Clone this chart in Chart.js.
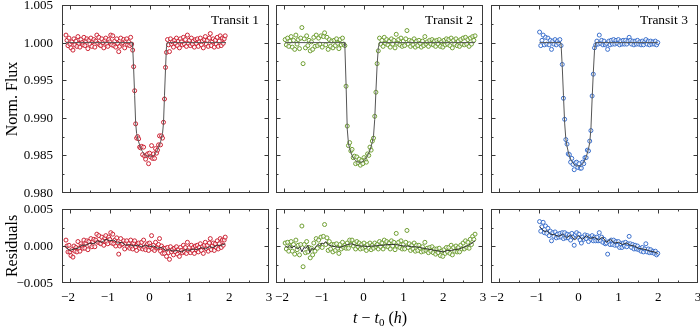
<!DOCTYPE html>
<html><head><meta charset="utf-8">
<script src="https://cdn.jsdelivr.net/npm/chart.js@4.4.1/dist/chart.umd.min.js"></script>
<style>
html,body{margin:0;padding:0;background:#fff;width:700px;height:327px;overflow:hidden;}
#wrap{position:relative;width:700px;height:327px;}
canvas{position:absolute;left:0;top:0;}
.lbl{position:absolute;font-family:'Liberation Serif',serif;color:#000;white-space:nowrap;line-height:1;}
</style></head><body><div id="wrap">
<canvas id="c1" width="700" height="327"></canvas>
<canvas id="c2" width="700" height="327"></canvas>
<canvas id="c3" width="700" height="327"></canvas>
<canvas id="c4" width="700" height="327"></canvas>
<canvas id="c5" width="700" height="327"></canvas>
<canvas id="c6" width="700" height="327"></canvas>
<div class="lbl" style="left:12px;top:99px;font-size:16px;transform:translate(-50%,-50%) rotate(-90deg);">Norm. Flux</div>
<div class="lbl" style="left:12px;top:246px;font-size:16px;transform:translate(-50%,-50%) rotate(-90deg);">Residuals</div>
<div class="lbl" style="left:380px;top:318px;font-size:16px;transform:translate(-50%,-50%);"><i>t</i> − <i>t</i><span style="font-size:11px;position:relative;top:3px;">0</span> (<i>h</i>)</div>
</div>
<script>
// ---------- tick values ----------
const xMajor = [-2,-1,0,1,2,3];
const xMinor = [-1.5,-0.5,0.5,1.5,2.5];
const fluxMajor = [0.980,0.985,0.990,0.995,1.000,1.005];
const fluxMinor = [0.9825,0.9875,0.9925,0.9975,1.0025];
const resMajor = [-0.005,0,0.005];
const resMinor = [-0.0025,0.0025];
const transitNames = ['Transit 1','Transit 2','Transit 3'];

// ---------- Transit 1 ----------
const t1 = [-2.1,-2.075,-2.05,-2.025,-2,-1.975,-1.95,-1.925,-1.9,-1.875,-1.85,-1.825,-1.8,-1.775,-1.75,-1.725,-1.7,-1.675,-1.65,-1.625,-1.6,-1.575,-1.55,-1.525,-1.5,-1.475,-1.45,-1.425,-1.4,-1.375,-1.35,-1.325,-1.3,-1.275,-1.25,-1.225,-1.2,-1.175,-1.15,-1.125,-1.1,-1.075,-1.05,-1.025,-1,-0.975,-0.95,-0.925,-0.9,-0.875,-0.85,-0.825,-0.8,-0.775,-0.75,-0.725,-0.7,-0.675,-0.65,-0.625,-0.6,-0.575,-0.55,-0.525,-0.5,-0.475,-0.45,-0.425,-0.4,-0.375,-0.35,-0.325,-0.3,-0.275,-0.25,-0.225,-0.2,-0.175,-0.15,-0.125,-0.1,-0.075,-0.05,-0.025,0,0.025,0.05,0.075,0.1,0.125,0.15,0.175,0.2,0.225,0.25,0.275,0.3,0.325,0.35,0.375,0.4,0.425,0.45,0.475,0.5,0.525,0.55,0.575,0.6,0.625,0.65,0.675,0.7,0.725,0.75,0.775,0.8,0.825,0.85,0.875,0.9,0.925,0.95,0.975,1,1.025,1.05,1.075,1.1,1.125,1.15,1.175,1.2,1.225,1.25,1.275,1.3,1.325,1.35,1.375,1.4,1.425,1.45,1.475,1.5,1.525,1.55,1.575,1.6,1.625,1.65,1.675,1.7,1.725,1.75,1.775,1.8,1.825,1.85,1.875,1.9];
const f1 = [1.001,1.0003,0.9996,1.0006,0.9998,0.9993,1.0001,0.999,1.0005,0.9997,
1.0002,0.9995,1.0008,0.9999,0.9994,1.0004,1,0.9997,1.0007,0.9996,
1.0002,1.0005,0.9992,1.0003,0.9998,1.0006,0.9995,1.0001,1.0004,0.9994,
1.0002,1.001,0.9999,1.0007,0.9997,0.9996,1.0005,1,0.9993,1.0003,
1.0006,0.9998,0.9995,1.0004,1.0001,1.001,0.9997,1.0009,0.9996,1.0002,
0.9994,1.0005,0.9999,0.9988,0.9995,1.0006,0.9998,1,1.0004,0.9993,
1.0002,1.0005,0.9997,1.0001,0.9996,1.0007,0.9998,0.999,0.9968,0.9936,
0.9892,0.9873,0.9875,0.9872,0.9861,0.986,0.9862,0.9851,0.9861,0.9849,
0.9845,0.985,0.9852,0.9839,0.9853,0.9848,0.9863,0.9846,0.9852,0.9846,
0.9859,0.9853,0.9857,0.9864,0.9876,0.9864,0.9876,0.9873,0.9894,0.9925,
0.9967,0.9987,1.0004,0.9997,0.9988,1.0005,0.9998,1.0001,0.9994,1.0003,
0.9999,1.0006,0.9996,1.0002,0.9993,1.0005,1.0001,0.9997,1.0007,0.9998,
1.0004,0.9995,1.001,0.9999,1.0003,0.9996,1.0006,0.9998,1.0002,0.9994,
1.0004,0.9999,1.0005,0.9995,1.0001,1.0006,0.9997,1.0002,0.9993,1.0004,
1.0008,0.9998,1.0003,0.9995,1.0006,1.0012,0.9996,1.0001,1.0005,0.9994,
1.0003,0.9998,1.0007,0.9995,1.0002,1.0009,0.9996,1.0006,0.9999,1.0005,
1.0009];
const r1 = [8e-4,0,-8e-4,1e-4,-8e-4,-13e-4,-5e-4,-15e-4,0,-7e-4,
-2e-4,-8e-4,6e-4,-3e-4,-7e-4,3e-4,0,-3e-4,8e-4,-3e-4,
4e-4,7e-4,-5e-4,6e-4,1e-4,10e-4,-1e-4,6e-4,9e-4,-1e-4,
8e-4,16e-4,5e-4,14e-4,4e-4,3e-4,12e-4,7e-4,1e-4,11e-4,
14e-4,6e-4,3e-4,12e-4,9e-4,18e-4,4e-4,16e-4,3e-4,8e-4,
0,11e-4,4e-4,-11e-4,0,10e-4,2e-4,3e-4,7e-4,-4e-4,
4e-4,7e-4,-1e-4,3e-4,-3e-4,8e-4,-1e-4,-4e-4,4e-4,7e-4,
-1e-4,-6e-4,2e-4,4e-4,-3e-4,0,5e-4,-4e-4,8e-4,-2e-4,
-5e-4,1e-4,3e-4,-6e-4,4e-4,-1e-4,14e-4,-4e-4,1e-4,-6e-4,
5e-4,-3e-4,-2e-4,2e-4,10e-4,-7e-4,0,-10e-4,-3e-4,-10e-4,
-3e-4,-14e-4,-2e-4,-9e-4,-18e-4,-1e-4,-8e-4,-5e-4,-12e-4,-3e-4,
-8e-4,-1e-4,-11e-4,-5e-4,-14e-4,-2e-4,-6e-4,-9e-4,1e-4,-8e-4,
-2e-4,-10e-4,5e-4,-6e-4,-2e-4,-9e-4,1e-4,-6e-4,-2e-4,-10e-4,
0,-5e-4,1e-4,-8e-4,-2e-4,3e-4,-6e-4,-1e-4,-10e-4,1e-4,
5e-4,-4e-4,1e-4,-7e-4,4e-4,10e-4,-5e-4,0,4e-4,-6e-4,
3e-4,-2e-4,7e-4,-4e-4,3e-4,10e-4,-2e-4,8e-4,1e-4,8e-4,
12e-4];
const m1t = [-2.1,-0.44,-0.425,-0.4,-0.375,-0.35,-0.325,-0.3,-0.275,-0.25,-0.225,-0.2,-0.175,-0.15,-0.125,-0.1,-0.075,0,0.075,0.1,0.125,0.15,0.175,0.2,0.225,0.25,0.275,0.3,0.325,0.35,0.375,0.4,0.425,0.44,1.92];
const m1f = [1,1,0.9995,0.9965,0.993,0.9893,0.9879,0.9873,0.9868,0.9864,0.986,0.9857,0.9855,0.9853,0.9851,0.985,0.9849,0.9849,0.9849,0.985,0.9851,0.9853,0.9855,0.9857,0.986,0.9864,0.9868,0.9873,0.9879,0.9893,0.993,0.9965,0.9995,1,1];
const d1t = [-2.1,-2,-1.9,-1.8,-1.7,-1.6,-1.5,-1.4,-1.3,-1.2,-1.1,-1,-0.9,-0.8,-0.7,-0.6,-0.5,-0.4,-0.3,-0.2,-0.1,0,0.1,0.2,0.3,0.4,0.5,0.6,0.7,0.8,0.9,1,1.1,1.2,1.3,1.4,1.5,1.6,1.7,1.8,1.9];
const d1v = [-2e-4,-6e-4,-4e-4,-3e-4,1e-4,1e-4,4e-4,3e-4,7e-4,5e-4,9e-4,7e-4,8e-4,4e-4,5e-4,1e-4,2e-4,0,1e-4,-1e-4,1e-4,-1e-4,0,-3e-4,-2e-4,-6e-4,-5e-4,-7e-4,-6e-4,-8e-4,-5e-4,-6e-4,-4e-4,-5e-4,-2e-4,-4e-4,-1e-4,-2e-4,1e-4,1e-4,3e-4];

// ---------- Transit 2 ----------
const t2 = [-1.97,-1.94,-1.91,-1.88,-1.85,-1.82,-1.79,-1.76,-1.73,-1.7,
-1.67,-1.64,-1.61,-1.58,-1.55,-1.52,-1.49,-1.46,-1.43,-1.4,
-1.37,-1.34,-1.31,-1.28,-1.25,-1.22,-1.19,-1.16,-1.13,-1.1,
-1.07,-1.04,-1.01,-0.98,-0.95,-0.92,-0.89,-0.86,-0.83,-0.8,
-0.77,-0.74,-0.71,-0.68,-0.65,-0.62,-0.59,-0.56,-0.53,-0.5,
-0.47,-0.44,-0.41,-0.38,-0.35,-0.32,-0.29,-0.26,-0.23,-0.2,
-0.17,-0.14,-0.11,-0.08,-0.05,-0.02,0.01,0.04,0.07,0.1,
0.13,0.16,0.19,0.22,0.25,0.28,0.31,0.34,0.37,0.4,
0.43,0.46,0.49,0.52,0.55,0.58,0.61,0.64,0.67,0.7,
0.73,0.76,0.79,0.82,0.85,0.88,0.91,0.94,0.97,1,
1.03,1.06,1.09,1.12,1.15,1.18,1.21,1.24,1.27,1.3,
1.33,1.36,1.39,1.42,1.45,1.48,1.51,1.54,1.57,1.6,
1.63,1.66,1.69,1.72,1.75,1.78,1.81,1.84,1.87,1.9,
1.93,1.96,1.99,2.02,2.05,2.08,2.11,2.14,2.17,2.2,
2.23,2.26,2.29,2.32,2.35,2.38,2.41,2.44,2.47,2.5,
2.53,2.56,2.59,2.62,2.65,2.68,2.71,2.74,2.77,2.8];
const f2 = [1.0004,0.9997,1.0006,0.9995,1.0002,1.0008,0.9994,1.0003,0.9991,1.001,
0.9998,1.0004,0.9992,1.0006,1.002,0.9972,1.0005,0.9993,1.0009,0.9996,
1.0003,0.9989,1.0001,0.9991,1.0007,0.9995,1.001,0.9996,1.0006,0.9998,
1.0009,0.9994,1.0008,1.0013,0.9997,1.0007,0.9991,1.0004,0.9995,1.0002,
0.9993,1.0003,0.9996,1.0005,0.9999,0.9992,1.0004,0.9997,1.0006,0.9998,
0.9996,0.9942,0.9889,0.9863,0.9867,0.9856,0.9858,0.9847,0.9849,0.9839,
0.9848,0.984,0.9845,0.9837,0.9843,0.9839,0.9847,0.9844,0.9841,0.9852,
0.985,0.9861,0.9857,0.9869,0.9873,0.9902,0.9934,0.9972,0.9989,1.0006,
0.9998,1.0003,0.9995,1.0007,0.9999,1.0004,0.9997,1.0002,0.9994,1.0005,
0.9998,1.0003,0.9993,1.0011,0.9999,1.0004,0.9997,1.0006,0.9995,1.0002,
0.9996,1.0005,1.0016,0.9998,1.0003,0.9995,1.0002,0.9997,1.0005,0.9994,
1.0002,0.9996,1.0003,0.9999,0.9994,1.0002,0.9996,1.0008,0.9998,1.0001,
0.9995,1.0003,0.9998,1.0004,0.9997,1.0002,0.9995,1.0003,0.9998,1.0004,
0.9995,1.0001,0.9994,1.0003,0.9997,1.0005,0.9998,1.0004,0.9996,1.0006,
0.9993,1.0003,0.9998,1.0005,0.9996,1.0002,0.9995,1.0004,0.9998,1.0006,
0.9997,1.0007,0.9998,1.0004,0.9995,1.0006,0.9998,1.0008,1.0003,1.0009];
const r2 = [4e-4,-4e-4,5e-4,-7e-4,0,6e-4,-7e-4,2e-4,-11e-4,8e-4,
-5e-4,1e-4,-12e-4,2e-4,27e-4,-28e-4,2e-4,-9e-4,6e-4,-8e-4,
-2e-4,-16e-4,-3e-4,-12e-4,4e-4,-7e-4,10e-4,-3e-4,8e-4,1e-4,
12e-4,-2e-4,13e-4,29e-4,2e-4,11e-4,-6e-4,6e-4,-4e-4,2e-4,
-8e-4,2e-4,-6e-4,3e-4,-3e-4,-10e-4,2e-4,-4e-4,5e-4,-2e-4,
1e-4,-3e-4,4e-4,-3e-4,8e-4,2e-4,8e-4,0,4e-4,-4e-4,
6e-4,-1e-4,4e-4,-4e-4,2e-4,-3e-4,4e-4,-1e-4,-6e-4,2e-4,
-3e-4,4e-4,-5e-4,1e-4,-3e-4,4e-4,-1e-4,2e-4,-4e-4,6e-4,
-1e-4,4e-4,-4e-4,8e-4,0,6e-4,-1e-4,4e-4,-4e-4,7e-4,
0,5e-4,-5e-4,17e-4,0,5e-4,-2e-4,7e-4,-4e-4,2e-4,
-4e-4,5e-4,21e-4,-2e-4,3e-4,-6e-4,1e-4,-4e-4,4e-4,-7e-4,
1e-4,-6e-4,1e-4,-3e-4,-8e-4,-1e-4,-7e-4,5e-4,-6e-4,-3e-4,
-9e-4,-2e-4,-7e-4,-1e-4,-9e-4,-4e-4,-11e-4,-4e-4,-9e-4,-3e-4,
-13e-4,-7e-4,-14e-4,-5e-4,-10e-4,-2e-4,-8e-4,-2e-4,-10e-4,1e-4,
-12e-4,-2e-4,-7e-4,0,-8e-4,-2e-4,-8e-4,1e-4,-4e-4,4e-4,
-4e-4,7e-4,-2e-4,5e-4,-3e-4,9e-4,2e-4,13e-4,9e-4,16e-4];
const m2t = [-1.97,-0.48,-0.47,-0.44,-0.41,-0.38,-0.35,-0.32,-0.29,-0.26,-0.23,-0.2,-0.17,-0.14,-0.11,-0.08,-0.05,-0.02,0.01,0.04,0.07,0.1,0.13,0.16,0.19,0.22,0.25,0.28,0.31,0.34,0.37,0.4,2.8];
const m2f = [1,1,0.9995,0.9945,0.9885,0.9866,0.9859,0.9854,0.985,0.9847,0.9845,0.9843,0.9842,0.9841,0.9841,0.9841,0.9841,0.9842,0.9843,0.9845,0.9847,0.985,0.9853,0.9857,0.9862,0.9868,0.9876,0.9898,0.9935,0.997,0.9993,1,1];
const d2t = [-1.97,-1.9,-1.85,-1.8,-1.75,-1.7,-1.65,-1.6,-1.55,-1.5,-1.45,-1.4,-1.35,-1.3,-1.25,-1.2,-1.15,-1.1,-1.05,-1,-0.95,-0.9,-0.8,-0.7,-0.6,-0.5,-0.4,-0.3,-0.2,-0.1,0,0.1,0.2,0.3,0.4,0.5,0.6,0.7,0.8,0.9,1,1.1,1.2,1.3,1.4,1.5,1.6,1.7,1.8,1.9,2,2.1,2.2,2.3,2.4,2.5,2.6,2.7,2.8];
const d2v = [0,-2e-4,1e-4,-3e-4,0,-2e-4,-4e-4,-1e-4,-8e-4,-2e-4,-3e-4,1e-4,-9e-4,-3e-4,-5e-4,-1e-4,2e-4,0,4e-4,3e-4,6e-4,2e-4,0,-1e-4,-2e-4,0,2e-4,3e-4,1e-4,0,0,-1e-4,0,0,1e-4,1e-4,2e-4,2e-4,2e-4,1e-4,0,0,-1e-4,-1e-4,-2e-4,-3e-4,-4e-4,-5e-4,-6e-4,-7e-4,-8e-4,-6e-4,-6e-4,-5e-4,-4e-4,-2e-4,0,3e-4,7e-4];

// ---------- Transit 3 ----------
const t3 = [-0.98,-0.95,-0.92,-0.89,-0.86,-0.83,-0.8,-0.77,-0.74,-0.71,
-0.68,-0.65,-0.62,-0.59,-0.56,-0.53,-0.5,-0.47,-0.44,-0.41,
-0.38,-0.35,-0.32,-0.29,-0.26,-0.23,-0.2,-0.17,-0.14,-0.11,
-0.08,-0.05,-0.02,0.01,0.04,0.07,0.1,0.13,0.16,0.19,
0.22,0.25,0.28,0.31,0.34,0.37,0.4,0.43,0.46,0.49,
0.52,0.55,0.58,0.61,0.64,0.67,0.7,0.73,0.76,0.79,
0.82,0.85,0.88,0.91,0.94,0.97,1,1.03,1.06,1.09,
1.12,1.15,1.18,1.21,1.24,1.27,1.3,1.33,1.36,1.39,
1.42,1.45,1.48,1.51,1.54,1.57,1.6,1.63,1.66,1.69,
1.72,1.75,1.78,1.81,1.84,1.87,1.9,1.93,1.96,1.99];
const f3 = [1.0014,0.9996,1.0003,1.001,0.9997,1.0007,0.9998,1.0006,0.9997,1.0003,
0.9991,1.0002,0.9998,1.0004,0.9997,1.0002,0.9999,1.0004,0.9996,0.9971,
0.9926,0.9898,0.9871,0.9865,0.9852,0.9851,0.9841,0.9846,0.9838,0.9831,
0.984,0.9841,0.9834,0.9839,0.9833,0.9833,0.9841,0.9839,0.9847,0.9847,
0.9857,0.9856,0.9869,0.9883,0.9929,0.9958,0.9993,0.9997,1.0002,0.9998,
1.001,0.9999,1.0003,0.9997,1.0002,0.9997,0.9999,0.9991,1.0002,0.9997,
1.0003,0.9998,1.0004,0.9998,1.0003,0.9999,1.0004,0.9997,1.0002,0.9998,
1.0003,0.9998,1.0003,0.9998,1.0002,1.0007,1.0003,0.9998,1.0002,0.9997,
1.0002,0.9998,1.0003,0.9998,1.0001,0.9997,1.0002,0.9997,1.0001,1.0004,
0.9998,1.0002,0.9997,1.0002,0.9998,1.0001,0.9998,1.0002,0.9997,1];
const r3 = [33e-4,20e-4,26e-4,32e-4,18e-4,27e-4,17e-4,24e-4,14e-4,20e-4,
7e-4,18e-4,13e-4,19e-4,11e-4,16e-4,12e-4,17e-4,12e-4,18e-4,
10e-4,18e-4,11e-4,16e-4,11e-4,15e-4,8e-4,17e-4,12e-4,1e-4,
15e-4,18e-4,12e-4,16e-4,8e-4,4e-4,12e-4,9e-4,15e-4,10e-4,
14e-4,6e-4,12e-4,9e-4,14e-4,7e-4,12e-4,7e-4,12e-4,7e-4,
18e-4,7e-4,12e-4,5e-4,9e-4,3e-4,4e-4,-11e-4,6e-4,2e-4,
8e-4,2e-4,8e-4,1e-4,6e-4,1e-4,6e-4,-2e-4,3e-4,-2e-4,
4e-4,0,5e-4,-1e-4,3e-4,13e-4,3e-4,-2e-4,2e-4,-4e-4,
1e-4,-4e-4,0,-5e-4,-3e-4,-7e-4,-2e-4,-8e-4,-4e-4,3e-4,
-8e-4,-4e-4,-9e-4,-5e-4,-9e-4,-7e-4,-10e-4,-7e-4,-12e-4,-10e-4];
const m3t = [-0.98,-0.45,-0.44,-0.41,-0.38,-0.35,-0.32,-0.29,-0.26,-0.23,-0.2,-0.17,-0.14,-0.11,-0.08,-0.05,-0.02,0.01,0.04,0.07,0.1,0.13,0.16,0.19,0.22,0.25,0.28,0.31,0.34,0.37,0.4,0.43,1.99];
const m3f = [1,1,0.9998,0.9968,0.993,0.9893,0.9872,0.9862,0.9855,0.9849,0.9845,0.9842,0.984,0.9838,0.9837,0.9836,0.9836,0.9836,0.9836,0.9837,0.9839,0.9841,0.9844,0.9848,0.9853,0.9859,0.9867,0.9885,0.9925,0.996,0.999,1,1];
const d3t = [-0.98,-0.9,-0.85,-0.8,-0.7,-0.6,-0.5,-0.4,-0.3,-0.2,-0.1,0,0.1,0.2,0.3,0.4,0.5,0.6,0.7,0.8,0.9,1,1.1,1.2,1.3,1.4,1.5,1.6,1.7,1.8,1.9,1.99];
const d3v = [26e-4,22e-4,19e-4,21e-4,16e-4,15e-4,13e-4,16e-4,11e-4,15e-4,8e-4,14e-4,9e-4,14e-4,10e-4,12e-4,8e-4,12e-4,5e-4,9e-4,4e-4,5e-4,2e-4,4e-4,1e-4,0,-3e-4,-4e-4,-5e-4,-7e-4,-8e-4,-10e-4];

// ---------- drawing ----------
const FONT = '"Liberation Serif", "DejaVu Serif", serif';
const colors = ['#cc2233','#6f9e32','#3a6fcc'];
const panelLeft = [62, 276, 491];
const panelW = 207;
const topBox = {top:5, bottom:193};
const resBox = {top:209, bottom:283};

function pairs(xs, ys){ return xs.map((x,i)=>({x:x, y:ys[i]})); }

const framePlugin = {
  id:'frame',
  afterDatasetsDraw(chart, args, o){
    const ctx = chart.ctx, a = chart.chartArea, xs = chart.scales.x, ys = chart.scales.y;
    const L = Math.round(a.left)+0.5, R = Math.round(a.right)-0.5, T = Math.round(a.top)+0.5, B = Math.round(a.bottom)-0.5;
    ctx.save();
    ctx.strokeStyle = '#3a3a3a'; ctx.lineWidth = 1;
    ctx.strokeRect(L, T, R-L, B-T);
    ctx.beginPath();
    const xt = (vals, len) => vals.forEach(v => {
      const p = Math.round(xs.getPixelForValue(v))+0.5;
      if (p <= L+1 || p >= R-1) return;
      ctx.moveTo(p, B); ctx.lineTo(p, B-len);
      ctx.moveTo(p, T); ctx.lineTo(p, T+len);
    });
    const yt = (vals, len) => vals.forEach(v => {
      const p = Math.round(ys.getPixelForValue(v))+0.5;
      if (p <= T+1 || p >= B-1) return;
      ctx.moveTo(L, p); ctx.lineTo(L+len, p);
      ctx.moveTo(R, p); ctx.lineTo(R-len, p);
    });
    xt(xMajor, 4); xt(xMinor, 2);
    yt(o.yMajor, 4); yt(o.yMinor, 2);
    ctx.stroke();
    ctx.fillStyle = '#000';
    ctx.font = '13px ' + FONT;
    if (o.yLabels){
      ctx.textAlign = 'right'; ctx.textBaseline = 'middle';
      o.yMajor.forEach(v => {
        const s = (v < 0 ? '\u2212' : '') + Math.abs(v).toFixed(3);
        ctx.fillText(s, a.left - 9, ys.getPixelForValue(v) + 0.5);
      });
    }
    if (o.xLabels){
      ctx.textAlign = 'center'; ctx.textBaseline = 'middle';
      xMajor.forEach(v => {
        const s = (v < 0 ? '\u2212' : '') + Math.abs(v);
        ctx.fillText(s, xs.getPixelForValue(v) - (v < 0 ? 2 : 0), a.bottom + 15);
      });
    }
    if (o.title){
      ctx.font = '13.5px ' + FONT;
      ctx.textAlign = 'right'; ctx.textBaseline = 'middle';
      ctx.fillText(o.title, a.right - 10, a.top + 15);
    }
    ctx.restore();
  }
};

function makePanel(id, col, box, yMin, yMax, datasets, frameOpts){
  const left = panelLeft[col];
  new Chart(document.getElementById(id), {
    type:'scatter',
    data:{datasets:datasets},
    options:{
      responsive:false, animation:false, devicePixelRatio:1, events:[],
      layout:{autoPadding:false, padding:{left:left, right:700-(left+panelW), top:box.top, bottom:327-box.bottom}},
      scales:{
        x:{type:'linear', min:-2.2, max:3, display:false},
        y:{type:'linear', min:yMin, max:yMax, display:false}
      },
      plugins:{legend:{display:false}, tooltip:{enabled:false}, frame:frameOpts}
    },
    plugins:[framePlugin]
  });
}

function pointSet(xs, ys, color){
  return {data:pairs(xs,ys), showLine:false, pointRadius:2, pointBorderWidth:1,
    pointBorderColor:color, pointBackgroundColor:'rgba(255,255,255,0.65)', order:2};
}
function lineSet(xs, ys, color, w){
  return {data:pairs(xs,ys), showLine:true, pointRadius:0, borderColor:color, borderWidth:w, tension:0, order:1};
}

const T = [[t1,f1,r1,m1t,m1f,d1t,d1v],[t2,f2,r2,m2t,m2f,d2t,d2v],[t3,f3,r3,m3t,m3f,d3t,d3v]];
T.forEach((d, k) => {
  makePanel('c'+(k+1), k, topBox, 0.980, 1.005,
    [pointSet(d[0], d[1], colors[k]), lineSet(d[3], d[4], '#555555', 1)],
    {yMajor:fluxMajor, yMinor:fluxMinor, yLabels:k===0, xLabels:false, title:transitNames[k]});
  makePanel('c'+(k+4), k, resBox, -0.005, 0.005,
    [pointSet(d[0], d[2], colors[k]), lineSet(d[5], d[6], '#333333', 1)],
    {yMajor:resMajor, yMinor:resMinor, yLabels:k===0, xLabels:true, title:null});
});
</script>
</body></html>
